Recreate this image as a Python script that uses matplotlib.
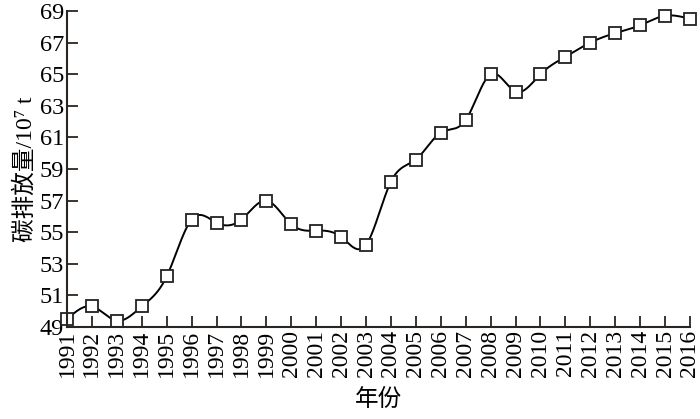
import numpy as np
import matplotlib
matplotlib.use("Agg")
import matplotlib.pyplot as plt

years = list(range(1991, 2017))
emissions = [49.5, 50.3, 49.4, 50.3, 52.2, 55.8, 55.6, 55.8, 57.0, 55.5,
             55.1, 54.7, 54.2, 58.2, 59.6, 61.3, 62.1, 65.0, 63.9, 65.0,
             66.1, 67.0, 67.6, 68.1, 68.7, 68.5]
y_ticks = [49, 51, 53, 55, 57, 59, 61, 63, 65, 67, 69]


def natural_spline(x, y, n=2000):
    x = np.asarray(x, float)
    y = np.asarray(y, float)
    k = len(x)
    h = np.diff(x)
    A = np.zeros((k, k))
    b = np.zeros(k)
    A[0, 0] = A[-1, -1] = 1
    for i in range(1, k - 1):
        A[i, i - 1] = h[i - 1]
        A[i, i] = 2 * (h[i - 1] + h[i])
        A[i, i + 1] = h[i]
        b[i] = 3 * ((y[i + 1] - y[i]) / h[i] - (y[i] - y[i - 1]) / h[i - 1])
    c = np.linalg.solve(A, b)
    xs = np.linspace(x[0], x[-1], n)
    idx = np.clip(np.searchsorted(x, xs) - 1, 0, k - 2)
    dx = xs - x[idx]
    hi = h[idx]
    bi = (y[idx + 1] - y[idx]) / hi - hi * (2 * c[idx] + c[idx + 1]) / 3
    di = (c[idx + 1] - c[idx]) / (3 * hi)
    ys = y[idx] + bi * dx + c[idx] * dx ** 2 + di * dx ** 3
    return xs, ys


plt.rcParams['font.family'] = ['Liberation Serif', 'DejaVu Serif']

fig = plt.figure(figsize=(7, 4.19), dpi=100)
ax = fig.add_axes([0.0957, 0.2196, 0.8900, 0.7541])

xs, ys = natural_spline(years, emissions)
ax.plot(xs, ys, color='black', lw=1.4, clip_on=False)
ax.plot(years, emissions, 's', ms=9, mfc='white', mec='#222222', mew=1.3,
        clip_on=False)

ax.set_xlim(1991, 2016)
ax.set_ylim(49, 69)
ax.set_xticks(years)
ax.set_xticklabels([str(y) for y in years], rotation=90, fontsize=17)
ax.set_yticks(y_ticks)
ax.set_yticklabels([str(v) for v in y_ticks], fontsize=17.5)

ax.spines['top'].set_visible(False)
ax.spines['right'].set_visible(False)
for s in ('left', 'bottom'):
    ax.spines[s].set_linewidth(1.5)
    ax.spines[s].set_color('#2a2520')
ax.tick_params(direction='in', length=8, width=1.3, color='#2a2520', pad=2)

ax.set_ylabel('碳排放量/10⁷ t', fontsize=17,
              family=['Liberation Serif', 'Noto Sans CJK SC', 'DejaVu Sans'],
              labelpad=2)
ax.set_xlabel('年份', fontsize=17,
              family=['Noto Sans CJK SC', 'DejaVu Sans'], labelpad=8)

fig.savefig('out.png', dpi=100)
